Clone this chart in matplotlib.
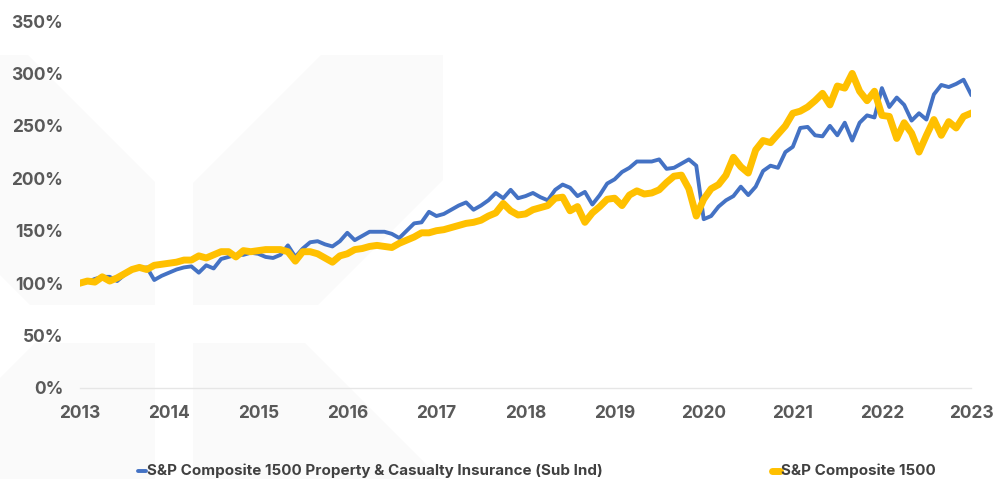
import matplotlib
matplotlib.use("Agg")
import matplotlib.pyplot as plt
from matplotlib.patches import Polygon
from matplotlib.lines import Line2D
import numpy as np

plt.rcParams['font.family'] = ['Inter', 'DejaVu Sans']

years = [2013, 2014, 2015, 2016, 2017, 2018, 2019, 2020, 2021, 2022, 2023]
y_ticks = [0, 50, 100, 150, 200, 250, 300, 350]

pc_insurance = [
    100, 101, 104, 106, 106, 102, 108, 113, 114, 115, 103, 107,
    110, 113, 115, 116, 110, 117, 114, 123, 125, 127, 127, 129,
    128, 125, 124, 127, 136, 125, 133, 139, 140, 137, 135, 140,
    148, 141, 145, 149, 149, 149, 147, 143, 150, 157, 158, 168,
    164, 166, 170, 174, 177, 170, 174, 179, 186, 181, 189, 181,
    183, 186, 182, 179, 189, 194, 191, 183, 187, 175, 184, 195,
    199, 206, 210, 216, 216, 216, 218, 209, 210, 214, 218, 212,
    161, 164, 173, 179, 183, 192, 184, 192, 207, 212, 210, 225,
    230, 248, 249, 241, 240, 250, 241, 253, 236, 253, 260, 258,
    286, 268, 277, 270, 255, 262, 256, 280, 289, 287, 290, 294,
    280,
]

composite_1500 = [
    100, 102, 101, 106, 102, 105, 109, 113, 115, 113, 117, 118,
    119, 120, 122, 122, 126, 124, 127, 130, 130, 125, 131, 130,
    131, 132, 132, 132, 130, 121, 130, 130, 128, 124, 120, 126,
    128, 132, 133, 135, 136, 135, 134, 138, 141, 144, 148, 148,
    150, 151, 153, 155, 157, 158, 160, 164, 167, 176, 169, 165,
    166, 170, 172, 174, 181, 182, 169, 173, 158, 167, 173, 180,
    181, 174, 184, 188, 185, 186, 189, 196, 202, 203, 190, 164,
    180, 190, 194, 203, 220, 211, 205, 227, 236, 234, 242, 250,
    262, 264, 268, 274, 281, 270, 288, 286, 300, 283, 274, 283,
    260, 259, 238, 253, 243, 225, 241, 256, 241, 254, 248, 259,
    262,
]

series_names = ["S&P Composite 1500 Property & Casualty Insurance (Sub Ind)",
                "S&P Composite 1500"]
colors = ["#4472C4", "#FFC000"]

W, H = 997, 479
fig = plt.figure(figsize=(W / 100, H / 100), dpi=100)
fig.patch.set_facecolor("white")

# faint background watermark shapes (pixel coords -> figure coords)
def px(pts):
    return [(x / W, 1 - y / H) for x, y in pts]

wm = "#fafafa"
shapes = [
    [(0, 55), (28, 55), (155, 182), (155, 305), (30, 305), (0, 275)],
    [(193, 183), (321, 55), (443, 55), (443, 180), (318, 305), (193, 305)],
    [(35, 343), (155, 343), (155, 479), (0, 479), (0, 378)],
    [(193, 343), (305, 343), (441, 479), (193, 479)],
]
for s in shapes:
    fig.patches.append(Polygon(px(s), closed=True, transform=fig.transFigure,
                               facecolor=wm, edgecolor="none", zorder=-5))

ax = fig.add_axes([80 / W, 1 - 388 / H, 891 / W, (388 - 21) / H])
ax.set_zorder(1)
ax.patch.set_alpha(0)

n = len(pc_insurance)
x = 2013 + np.arange(n) / 12.0

ax.plot(x, pc_insurance, color=colors[0], lw=2.8, solid_joinstyle="round", zorder=2)
ax.plot(x, composite_1500, color=colors[1], lw=5.0, solid_joinstyle="round", zorder=3)

ax.set_xlim(2013, 2023)
ax.set_ylim(0, 350)
ax.set_xticks(years)
ax.set_xticklabels([str(y) for y in years])
ax.set_yticks(y_ticks)
ax.set_yticklabels([f"{v}%" for v in y_ticks])

for sp in ["top", "right", "left"]:
    ax.spines[sp].set_visible(False)
ax.spines["bottom"].set_color("#e6e6e6")
ax.spines["bottom"].set_linewidth(1.0)
ax.tick_params(axis="both", length=0, labelsize=12.5, labelcolor="#595959")
ax.tick_params(axis="x", pad=12)
ax.tick_params(axis="y", pad=12)
for lab in ax.get_xticklabels() + ax.get_yticklabels():
    lab.set_fontweight("bold")

# legend
leg_y = 1 - 471 / H
entries = [(138, series_names[0], colors[0], 2.8), (772, series_names[1], colors[1], 5.0)]
for x0, name, c, lw in entries:
    fig.add_artist(Line2D([x0 / W, (x0 + 8) / W], [leg_y, leg_y], transform=fig.transFigure,
                          color=c, lw=lw, solid_capstyle="round"))
    fig.text((x0 + 9) / W, leg_y, name, fontsize=10.9, fontweight="bold", color="#404040",
             va="center", ha="left")

fig.savefig("out.png", dpi=100)
